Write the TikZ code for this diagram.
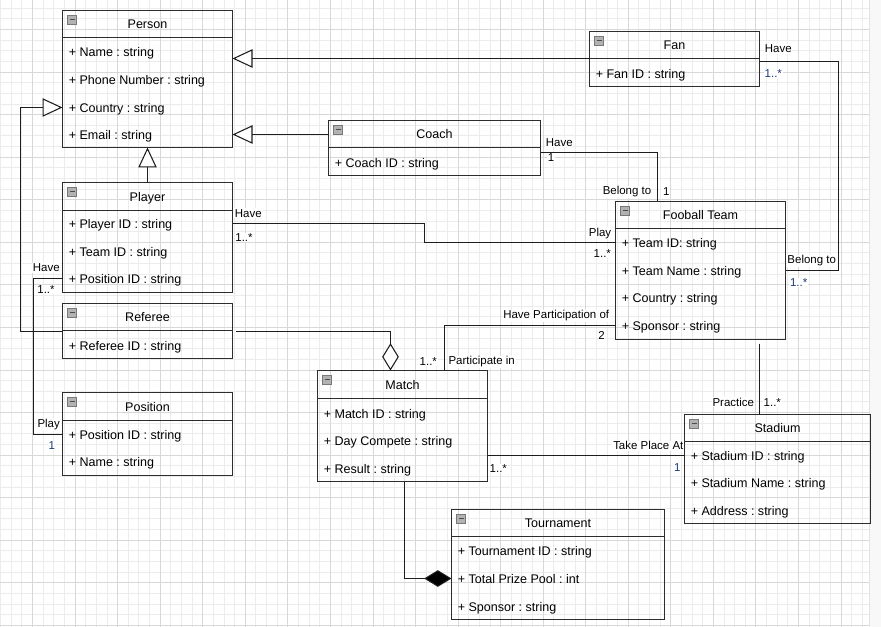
\documentclass[tikz,border=0pt]{standalone}
\usepackage{fontspec}
\setmainfont{Liberation Sans}
\frenchspacing
\usetikzlibrary{arrows.meta,calc,fit}
\definecolor{gridminor}{RGB}{236,236,236}
\definecolor{gridmajor}{RGB}{216,216,216}
\definecolor{boxline}{RGB}{45,45,45}
\definecolor{edgeline}{RGB}{30,30,30}
\definecolor{multblue}{RGB}{25,55,120}
\definecolor{iconfill}{RGB}{178,178,178}
\definecolor{iconline}{RGB}{120,120,120}
\definecolor{sidebg}{RGB}{248,248,248}
\definecolor{sideline}{RGB}{226,226,226}

\tikzset{
  x=0.75pt, y=-0.75pt,
  classbox/.style={draw=boxline, line width=0.95pt, inner sep=0pt, outer sep=0pt, rectangle},
  sepline/.style={draw=boxline, line width=0.95pt},
  titletext/.style={font=\fontsize{9.4}{11}\selectfont, inner sep=0pt, anchor=base},
  attrtext/.style={font=\fontsize{9.4}{11}\selectfont, inner sep=0pt, anchor=base west},
  elabel/.style={font=\fontsize{8.6}{10}\selectfont, fill=white, inner sep=0.6pt},
  bluelabel/.style={elabel, text=multblue},
  conn/.style={draw=edgeline, line width=0.8pt},
  gen/.style={conn, -{Triangle[open, fill=white, length=15pt, width=13.8pt]}},
  agg/.style={conn, -{Diamond[fill=white, length=20.5pt, width=12.5pt]}},
  comp/.style={conn, -{Diamond[fill=black, length=20.5pt, width=12.5pt]}},
  minusicon/.style={fill=iconfill, draw=iconline, line width=0.5pt},
  gridminorline/.style={draw=gridminor, line width=0.6pt},
  gridmajorline/.style={draw=gridmajor, line width=0.6pt},
}

% name, x1, y1, x2, ysep, y2, title
\newcommand\umlclass[7]{%
  \node[classbox, fit={(#2,#3)(#4,#6)}] (#1) {};
  \draw[sepline] (#2,#5) -- (#4,#5);
  \coordinate (#1-t) at ({(#2+#4)/2},{(#3+#5)/2});
  \node[titletext] (#1-title) at ({(#2+#4)/2},{(#3+#5)/2+4.6}) {#7};
  \draw[minusicon] ({#2+5},{#3+4.5}) rectangle ++(9,9);
  \draw[line width=0.9pt, draw=black!70] ({#2+7},{#3+9}) -- ++(5,0);
}
% row name, box x1, row y, text
\newcommand\umlattr[4]{%
  \coordinate (#1) at (#2,#3);
  \node[attrtext] (#1-text) at ({#2+6},{#3+4.9}) {#4};}

\begin{document}
\begin{tikzpicture}
\useasboundingbox (0,0) rectangle (881,627);
\fill[white] (0,0) rectangle (881,627);
\fill[sidebg] (869.5,0) rectangle (881,627);
\draw[sideline, line width=0.6pt] (869.5,0) -- (869.5,627);
% grid
\foreach \i in {0,...,81} {\draw[gridminorline] ({0.59+10.6375*\i},0) -- ({0.59+10.6375*\i},627);}
\foreach \j in {0,...,58} {\draw[gridminorline] (0,{8.225+10.6375*\j}) -- (869,{8.225+10.6375*\j});}
\foreach \k in {0,...,19} {\draw[gridmajorline] ({32.5+42.55*\k},0) -- ({32.5+42.55*\k},627);}
\foreach \k in {0,...,14} {\draw[gridmajorline] (0,{29.5+42.55*\k}) -- (869,{29.5+42.55*\k});}

% classes
\umlclass{person}{62.5}{10.5}{232.5}{37.5}{147.5}{Person}
\umlattr{person-1}{62.5}{51.7}{+ Name : string}
\umlattr{person-2}{62.5}{79.3}{+ Phone Number : string}
\umlattr{person-3}{62.5}{107.5}{+ Country : string}
\umlattr{person-4}{62.5}{134.7}{+ Email : string}

\umlclass{player}{62.5}{182.5}{232.5}{210.5}{292.5}{Player}
\umlattr{player-1}{62.5}{223.5}{+ Player ID : string}
\umlattr{player-2}{62.5}{251.3}{+ Team ID : string}
\umlattr{player-3}{62.5}{278.5}{+ Position ID : string}

\umlclass{referee}{62.5}{303.5}{232.5}{330.5}{358.5}{Referee}
\umlattr{referee-1}{62.5}{345.7}{+ Referee ID : string}

\umlclass{position}{62.5}{392.5}{232.5}{420.5}{475.5}{Position}
\umlattr{position-1}{62.5}{434.5}{+ Position ID : string}
\umlattr{position-2}{62.5}{461.7}{+ Name : string}

\umlclass{coach}{328.5}{120.5}{540.5}{147.5}{175.5}{Coach}
\umlattr{coach-1}{328.5}{162.7}{+ Coach ID : string}

\umlclass{fan}{589.5}{31.5}{759.5}{58.5}{86.5}{Fan}
\umlattr{fan-1}{589.5}{73.3}{+ Fan ID : string}

\umlclass{team}{615.5}{201.5}{785.5}{228.5}{339.5}{Fooball Team}
\umlattr{team-1}{615.5}{242.5}{+ Team ID: string}
\umlattr{team-2}{615.5}{270.7}{+ Team Name : string}
\umlattr{team-3}{615.5}{298}{+ Country : string}
\umlattr{team-4}{615.5}{325.5}{+ Sponsor : string}

\umlclass{match}{317.5}{370.5}{487.5}{398.5}{481.5}{Match}
\umlattr{match-1}{317.5}{414}{+ Match ID : string}
\umlattr{match-2}{317.5}{441}{+ Day Compete : string}
\umlattr{match-3}{317.5}{468.7}{+ Result : string}

\umlclass{stadium}{684.5}{414.5}{870.5}{441.5}{523.5}{Stadium}
\umlattr{stadium-1}{684.5}{455.5}{+ Stadium ID : string}
\umlattr{stadium-2}{684.5}{482.7}{+ Stadium Name : string}
\umlattr{stadium-3}{684.5}{510.3}{+ Address : string}

\umlclass{tournament}{451.5}{509.5}{664.5}{536.5}{619.5}{Tournament}
\umlattr{tournament-1}{451.5}{550.7}{+ Tournament ID : string}
\umlattr{tournament-2}{451.5}{578.5}{+ Total Prize Pool : int}
\umlattr{tournament-3}{451.5}{606.3}{+ Sponsor : string}

% connector end points
\coordinate (fanL) at ($(fan.north west)+(0,27)$);
\coordinate (coachL) at ($(coach.north west)+(0,14)$);

% connectors
\draw[gen] (fanL) -- (fanL -| person.east);
\draw[gen] (coachL) -- (coachL -| person.east);
\draw[gen] (player.north) -- (person.south);
\draw[gen] ($(referee.south west)+(0,-27)$) -- ++(-42,0) |- (person.west |- person-3);
\draw[agg] ($(referee.south east)+(3,-27)$) -| ($(match.north west)+(73,0)$);
\draw[conn] (player.west |- player-3) -- ++(-29,0) |- (position.west |- position-1);
\draw[conn] (player.east |- player-1) -- ++(192,0) |- (team.west |- team-1);
\draw[conn] ($(coach.east)+(0,4.5)$) -| ($(team.north west)+(42,0)$);
\draw[conn] ($(fan.east)+(0,2.5)$) -| ($(team.east)+(53,0)$) -- (team.east);
\draw[conn] ($(match.north west)+(127,0)$) |- (team.west |- team-4);
\draw[conn] (match.east |- stadium-1) -- (stadium.west |- stadium-1);
\draw[conn] ($(team.south west)+(144,4)$) -- ($(stadium.north west)+(75,0)$);
\draw[comp] ($(match.south west)+(87,0)$) |- (tournament.west |- tournament-2);

% connector labels
\node[elabel] (l1) at (46.3,267.7) {Have};
\node[elabel] (l2) at (46,289.3) {1..*};
\node[elabel] (l3) at (48.7,425) {Play};
\node[bluelabel] (l4) at (51.7,445.7) {1};
\node[elabel] (l5) at (248.3,213.3) {Have};
\node[elabel] (l6) at (244,237.3) {1..*};
\node[elabel] (l7) at (600,233.3) {Play};
\node[elabel] (l8) at (602.3,253.3) {1..*};
\node[elabel] (l9) at (559.3,142.7) {Have};
\node[elabel] (l10) at (551,157.3) {1};
\node[elabel] (l11) at (627,191.7) {Belong to};
\node[elabel] (l12) at (666.3,191.7) {1};
\node[elabel] (l13) at (778.3,49) {Have};
\node[bluelabel] (l14) at (773.3,73.3) {1..*};
\node[elabel] (l15) at (811.7,260.7) {Belong to};
\node[bluelabel] (l16) at (798.7,282.7) {1..*};
\node[elabel] (l17) at (556.2,315.7) {Have Participation of};
\node[elabel] (l18) at (601.5,335.7) {2};
\node[elabel] (l19) at (428.3,361.7) {1..*};
\node[elabel] (l20) at (481.7,361.7) {Participate in};
\node[elabel] (l21) at (498.3,468.3) {1..*};
\node[elabel] (l22) at (648.3,445.7) {Take Place At};
\node[bluelabel] (l23) at (677.3,467.3) {1};
\node[elabel] (l24) at (733.3,402.3) {Practice};
\node[elabel] (l25) at (772.3,402.3) {1..*};
\end{tikzpicture}
\end{document}
